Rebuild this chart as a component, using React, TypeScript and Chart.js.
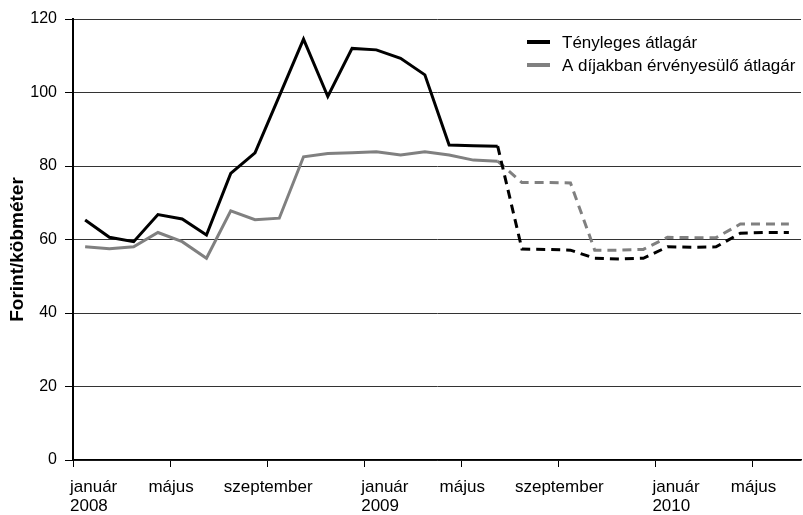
import React, { useEffect, useRef } from 'react';
import { Chart, registerables } from 'chart.js';

Chart.register(...registerables);

const FONT = '"Liberation Sans", Arial, sans-serif';

// Monthly categories, January 2008 – June 2010
const months = [
  '2008-01', '2008-02', '2008-03', '2008-04', '2008-05', '2008-06',
  '2008-07', '2008-08', '2008-09', '2008-10', '2008-11', '2008-12',
  '2009-01', '2009-02', '2009-03', '2009-04', '2009-05', '2009-06',
  '2009-07', '2009-08', '2009-09', '2009-10', '2009-11', '2009-12',
  '2010-01', '2010-02', '2010-03', '2010-04', '2010-05', '2010-06',
];

// Tényleges átlagár (Ft/m3)
const actualPrice = [
  65.3, 60.6, 59.4, 66.8, 65.6, 61.2, 78.0, 83.6, 99.0, 114.5, 98.9, 112.0,
  111.6, 109.3, 104.8, 85.7, 85.5, 85.4, 57.4, 57.3, 57.1, 54.9, 54.7, 54.9,
  58.0, 57.9, 58.0, 61.7, 61.9, 61.9,
];

// A díjakban érvényesülő átlagár (Ft/m3)
const tariffPrice = [
  58.0, 57.5, 58.0, 61.9, 59.4, 54.9, 67.8, 65.4, 65.8, 82.5, 83.4, 83.6,
  83.9, 83.0, 83.9, 83.0, 81.6, 81.3, 75.5, 75.5, 75.4, 57.1, 57.1, 57.3,
  60.6, 60.5, 60.5, 64.2, 64.2, 64.2,
];

const seriesLabels = ['Tényleges átlagár', 'A díjakban érvényesülő átlagár'];
const seriesColors = ['#000000', '#808080'];

// index of the last month drawn with a solid line (after it: dashed forecast)
const forecastFrom = 17;

const xTickEvery = 4;
const xTickLabels = [
  ['január', '2008'], ['május'], ['szeptember'],
  ['január', '2009'], ['május'], ['szeptember'],
  ['január', '2010'], ['május'],
];
const yTicks = [0, 20, 40, 60, 80, 100, 120];
const yTitle = 'Forint/köbméter';

const textPlugin = {
  id: 'customText',
  afterDraw(chart: any) {
    const { ctx, chartArea, scales } = chart;
    const xs = scales.x;
    ctx.save();
    ctx.fillStyle = '#000';

    // x tick labels
    ctx.font = `17px ${FONT}`;
    ctx.textBaseline = 'alphabetic';
    xTickLabels.forEach((lines, k) => {
      const px = xs.getPixelForValue(k * xTickEvery);
      lines.forEach((line, j) => {
        const y = chartArea.bottom + 32 + j * 19;
        if (lines.length > 1) {
          ctx.textAlign = 'left';
          ctx.fillText(line, px - 3, y);
        } else {
          ctx.textAlign = 'center';
          ctx.fillText(line, px + 1, y);
        }
      });
    });

    // y axis title
    ctx.save();
    ctx.translate(17.5, (chartArea.top + chartArea.bottom) / 2 + 10);
    ctx.rotate(-Math.PI / 2);
    ctx.font = `bold 19px ${FONT}`;
    ctx.textAlign = 'center';
    ctx.textBaseline = 'middle';
    ctx.fillText(yTitle, 0, 0);
    ctx.restore();

    // legend
    ctx.font = `17px ${FONT}`;
    ctx.textAlign = 'left';
    ctx.textBaseline = 'middle';
    chart.data.datasets.forEach((ds: any, i: number) => {
      const y = chartArea.top + 23 + i * 23;
      const x0 = chartArea.left + 454;
      ctx.strokeStyle = ds.borderColor;
      ctx.lineWidth = 4;
      ctx.beginPath();
      ctx.moveTo(x0, y);
      ctx.lineTo(x0 + 23, y);
      ctx.stroke();
      ctx.fillStyle = '#000';
      ctx.fillText(ds.label, x0 + 35, y + 1);
    });
    ctx.restore();
  },
};

export default function App() {
  const ref = useRef<HTMLCanvasElement>(null);

  useEffect(() => {
    const makeData = (vals: number[]) => months.map((_, i) => ({ x: i + 0.5, y: vals[i] }));
    const dashSeg = {
      borderDash: (c: any) => (c.p0DataIndex >= forecastFrom ? [9, 6] : undefined),
    };
    const chart = new Chart(ref.current as HTMLCanvasElement, {
      type: 'line',
      data: {
        datasets: [
          {
            label: seriesLabels[0],
            data: makeData(actualPrice),
            borderColor: seriesColors[0],
            backgroundColor: seriesColors[0],
            borderWidth: 3,
            pointRadius: 0,
            tension: 0,
            segment: dashSeg,
          },
          {
            label: seriesLabels[1],
            data: makeData(tariffPrice),
            borderColor: seriesColors[1],
            backgroundColor: seriesColors[1],
            borderWidth: 3,
            pointRadius: 0,
            tension: 0,
            segment: dashSeg,
          },
        ],
      },
      options: {
        animation: false,
        responsive: true,
        maintainAspectRatio: false,
        layout: { padding: { top: 19, right: 2, left: 0, bottom: 0 } },
        plugins: {
          legend: { display: false },
          tooltip: { enabled: false },
          title: { display: false },
        },
        scales: {
          x: {
            type: 'linear',
            min: 0,
            max: months.length,
            afterBuildTicks: (s: any) => {
              s.ticks = xTickLabels.map((_, k) => ({ value: k * xTickEvery }));
            },
            ticks: { display: false },
            grid: {
              drawOnChartArea: false,
              drawTicks: true,
              tickLength: 7,
              color: '#000',
              tickColor: '#000',
              lineWidth: 1,
            },
            border: { display: true, color: '#000', width: 1.5 },
            afterFit: (s: any) => {
              s.height = 55;
            },
          },
          y: {
            min: 0,
            max: 120,
            afterBuildTicks: (s: any) => {
              s.ticks = yTicks.map((v) => ({ value: v }));
            },
            ticks: {
              color: '#000',
              padding: 8,
              font: { family: FONT, size: 16 },
            },
            grid: {
              color: '#333',
              lineWidth: 1,
              drawTicks: true,
              tickLength: 8,
              tickColor: '#000',
            },
            border: { display: true, color: '#000', width: 2 },
            afterFit: (s: any) => {
              s.width = 73;
            },
          },
        },
      },
      plugins: [textPlugin],
    } as any);
    return () => chart.destroy();
  }, []);

  return (
    <div style={{ position: 'fixed', left: 0, top: 0, width: 803, height: 515, background: '#fff' }}>
      <canvas ref={ref} />
    </div>
  );
}
